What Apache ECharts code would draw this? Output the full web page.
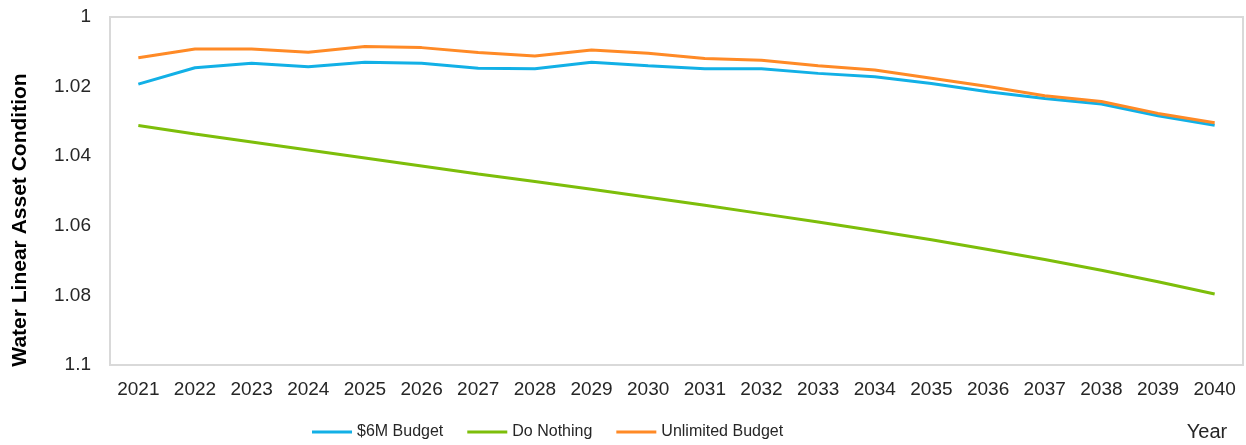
<!DOCTYPE html>
<html>
<head>
<meta charset="utf-8">
<script src="https://cdn.jsdelivr.net/npm/echarts@6/dist/echarts.min.js"></script>
<style>
  html, body { margin: 0; padding: 0; background: #fff; }
  #chart { width: 1246px; height: 445px; }
</style>
</head>
<body>
<div id="chart"></div>
<script>
const years = ["2021", "2022", "2023", "2024", "2025", "2026", "2027", "2028", "2029", "2030",
  "2031", "2032", "2033", "2034", "2035", "2036", "2037", "2038", "2039", "2040"];
const budget6M = [1.0193, 1.0146, 1.0133, 1.0143, 1.0130, 1.0133, 1.0147, 1.0149, 1.0130, 1.0140,
  1.0149, 1.0149, 1.0162, 1.0172, 1.0191, 1.0215, 1.0234, 1.0250, 1.0284, 1.0311];
const doNothing = [1.0312, 1.0336, 1.0359, 1.0382, 1.0405, 1.0428, 1.0451, 1.0473, 1.0495, 1.0518,
  1.0541, 1.0565, 1.0589, 1.0614, 1.0640, 1.0668, 1.0697, 1.0728, 1.0761, 1.0796];
const unlimited = [1.0117, 1.0092, 1.0092, 1.0101, 1.0085, 1.0088, 1.0102, 1.0112, 1.0095, 1.0104,
  1.0119, 1.0124, 1.0140, 1.0152, 1.0176, 1.0200, 1.0226, 1.0243, 1.0277, 1.0304];

let myChart = echarts.init(document.getElementById("chart"));
let seriesList = [
  { name: "$6M Budget", color: "#12B0E6", data: budget6M },
  { name: "Do Nothing", color: "#7DBE0A", data: doNothing },
  { name: "Unlimited Budget", color: "#FF8A26", data: unlimited },
];
let seriesData = [];
seriesList.forEach((item) => {
  seriesData.push({
    name: item.name,
    type: "line",
    symbol: "none",
    data: item.data,
    itemStyle: { color: item.color },
    lineStyle: { color: item.color, width: 3 },
  });
});

let option = {
  animation: false,
  textStyle: { fontFamily: "Liberation Sans" },
  grid: {
    left: 110,
    top: 17,
    right: 3,
    bottom: 80,
    show: true,
    borderColor: "#D9D9D9",
    borderWidth: 2,
  },
  legend: {
    left: 312,
    top: 424,
    padding: 0,
    icon: "rect",
    itemWidth: 40,
    itemHeight: 3,
    itemGap: 24,
    textStyle: {
      fontFamily: "Liberation Sans",
      fontSize: 16,
      color: "#262626",
    },
    data: seriesList.map((s) => s.name),
  },
  xAxis: {
    type: "category",
    data: years,
    axisLine: { show: false },
    axisTick: { show: false },
    axisLabel: {
      color: "#262626",
      fontSize: 19,
      margin: 15,
      interval: 0,
    },
  },
  yAxis: {
    type: "value",
    inverse: true,
    min: 1,
    max: 1.1,
    interval: 0.02,
    axisLine: { show: false },
    axisTick: { show: false },
    splitLine: { show: false },
    axisLabel: {
      color: "#262626",
      fontSize: 19,
      margin: 19,
    },
  },
  graphic: [
    {
      type: "text",
      x: 20,
      y: 220,
      rotation: Math.PI / 2,
      style: {
        text: "Water Linear Asset Condition",
        font: "bold 21px 'Liberation Sans'",
        fill: "#000",
        align: "center",
        verticalAlign: "middle",
      },
    },
    {
      type: "text",
      x: 1207,
      y: 432,
      style: {
        text: "Year",
        font: "20px 'Liberation Sans'",
        fill: "#262626",
        align: "center",
        verticalAlign: "middle",
      },
    },
  ],
  series: seriesData,
};
myChart.setOption(option);
</script>
</body>
</html>
